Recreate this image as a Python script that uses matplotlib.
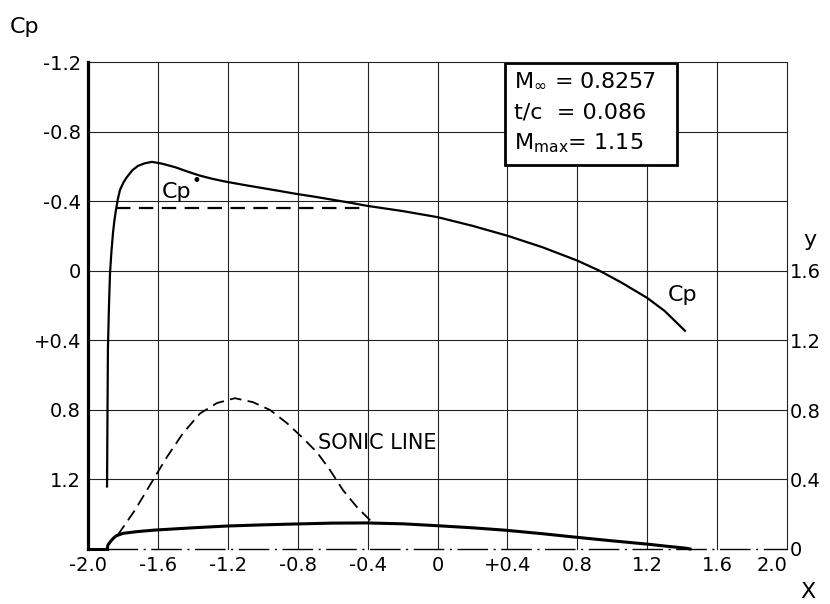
import numpy as np
import matplotlib
matplotlib.use('Agg')
import matplotlib.pyplot as plt
from matplotlib.patches import Rectangle

plt.rcParams['font.family'] = ['DejaVu Sans']

# ------------------------------------------------------------------
# Data (transonic airfoil, M = 0.8257)
# ------------------------------------------------------------------
# pressure coefficient along the surface (left axis, inverted)
cp_x = [-1.891, -1.889, -1.886, -1.880, -1.874, -1.866, -1.857, -1.849, -1.840,
        -1.829, -1.817, -1.798, -1.777, -1.746, -1.714, -1.675, -1.634, -1.577,
        -1.50, -1.43, -1.36, -1.29, -1.216, -1.10, -1.00, -0.90, -0.815, -0.70,
        -0.60, -0.50, -0.403, -0.20, 0.0, 0.2, 0.4, 0.6, 0.8, 0.93, 1.05, 1.2,
        1.30, 1.416]
cp_v = [1.24, 0.90, 0.45, 0.20, 0.012, -0.11, -0.219, -0.29, -0.351,
        -0.415, -0.466, -0.508, -0.541, -0.580, -0.605, -0.620, -0.628, -0.618,
        -0.597, -0.572, -0.549, -0.531, -0.515, -0.494, -0.477, -0.460, -0.445, -0.427,
        -0.410, -0.393, -0.375, -0.345, -0.31, -0.26, -0.203, -0.137, -0.06, 0.0, 0.065,
        0.155, 0.23, 0.344]

# critical pressure coefficient Cp*
cp_star = -0.363
cp_star_x = [-1.84, -0.415]

# sonic line (right axis, y)
sonic_x = [-1.830, -1.731, -1.628, -1.548, -1.456, -1.359, -1.262, -1.159,
           -1.056, -0.958, -0.861, -0.770, -0.690, -0.615, -0.541, -0.461, -0.375]
sonic_y = [0.08, 0.224, 0.397, 0.530, 0.667, 0.780, 0.840, 0.868,
           0.845, 0.800, 0.724, 0.638, 0.557, 0.454, 0.339, 0.241, 0.155]

# airfoil upper surface (right axis, y)
foil_x = [-1.891, -1.886, -1.874, -1.855, -1.838, -1.80, -1.72, -1.617, -1.40, -1.21,
          -1.00, -0.81, -0.60, -0.409, -0.20, 0.0, 0.20, 0.39, 0.60, 0.79, 1.00,
          1.20, 1.32, 1.42, 1.445]
foil_y = [0.0, 0.022, 0.040, 0.062, 0.076, 0.090, 0.100, 0.109, 0.122, 0.132,
          0.139, 0.144, 0.149, 0.150, 0.145, 0.134, 0.122, 0.108, 0.088, 0.068, 0.047,
          0.028, 0.015, 0.005, 0.0]

x_ticks = [-2.0, -1.6, -1.2, -0.8, -0.4, 0.0, 0.4, 0.8, 1.2, 1.6, 2.0]
x_labels = ['-2.0', '-1.6', '-1.2', '-0.8', '-0.4', '0', '+0.4', '0.8', '1.2', '1.6', '2.0']
cp_ticks = [-1.2, -0.8, -0.4, 0.0, 0.4, 0.8, 1.2]
cp_labels = ['-1.2', '-0.8', '-0.4', '0', '+0.4', '0.8', '1.2']
y_ticks = [0.0, 0.4, 0.8, 1.2, 1.6]
y_labels = ['0', '0.4', '0.8', '1.2', '1.6']

info_lines = [r'M$_\infty$ = 0.8257', 't/c  = 0.086', r'M$_{\rm max}$= 1.15']

XMIN, XMAX = -2.0, 2.0
CP_BOT, CP_TOP = 1.6, -1.2
Y_BOT, Y_TOP = 0.0, 2.8

# ------------------------------------------------------------------
# Figure
# ------------------------------------------------------------------
fig = plt.figure(figsize=(8.3, 6.04), dpi=100)
ax = fig.add_axes([88 / 830, 1 - 549 / 604, (787 - 88) / 830, (549 - 62.5) / 604])
ax2 = ax.twinx()

ax.set_xlim(XMIN, XMAX)
ax.set_ylim(CP_BOT, CP_TOP)
ax2.set_ylim(Y_BOT, Y_TOP)

# grid
grid_kw = dict(color='#222222', lw=0.8, zorder=1, clip_on=False)
for gx in x_ticks:
    ax.axvline(gx, **grid_kw)
for gy in cp_ticks:
    ax.axhline(gy, **grid_kw)

for s in ['top', 'right', 'bottom']:
    ax.spines[s].set_visible(False)
    ax2.spines[s].set_visible(False)
ax2.spines['left'].set_visible(False)
ax.spines['left'].set_linewidth(2.3)

# ticks
ax.set_xticks(x_ticks)
ax.set_xticklabels(x_labels, fontsize=14)
ax.get_xticklabels()[-1].set_horizontalalignment('right')
ax.set_yticks(cp_ticks)
ax.set_yticklabels(cp_labels, fontsize=14)
ax2.set_yticks(y_ticks)
ax2.set_yticklabels(y_labels, fontsize=14)
ax.tick_params(axis='both', length=0, pad=5)
ax2.tick_params(axis='y', length=0, pad=2)

# Cp curve and Cp*
ax.plot(cp_x, cp_v, color='black', lw=1.6, zorder=4)
ax.plot(cp_star_x, [cp_star, cp_star], color='black', lw=1.6,
        dashes=(6.5, 3.8), zorder=4)

# sonic line, airfoil, chord line
ax2.plot(sonic_x, sonic_y, color='black', lw=1.3, dashes=(6.5, 3.5), zorder=4)
ax2.plot(foil_x, foil_y, color='black', lw=2.2, zorder=5, clip_on=False)
ax2.plot([XMIN, foil_x[0]], [0, 0], color='black', lw=2.2, zorder=5, clip_on=False)
ax2.plot([foil_x[0], XMAX], [0, 0], color='black', lw=1.0,
         dashes=(22, 4, 1.5, 4), zorder=3, clip_on=False)

# text
ax.text(1.405, 0.14, 'Cp', fontsize=16, ha='center', va='center')
ax.text(-1.496, -0.455, 'Cp', fontsize=16, ha='center', va='center')
ax.text(-1.382, -0.518, '•', fontsize=12, ha='center', va='center')
ax2.text(-0.684, 0.61, 'SONIC LINE', fontsize=15, ha='left', va='center')

fig.text(25 / 830, 1 - 27 / 604, 'Cp', fontsize=16, ha='center', va='center')
fig.text(810 / 830, 1 - 240 / 604, 'y', fontsize=16, ha='center', va='center')
fig.text(808 / 830, 1 - 592 / 604, 'X', fontsize=16, ha='center', va='center')

# info box
box = Rectangle((0.386, -1.2), 1.37 - 0.386, 0.59, fill=True, facecolor='white',
                edgecolor='black', lw=2, zorder=6)
ax.add_patch(box)
for i, line in enumerate(info_lines):
    ax.text(0.44, -1.095 + i * 0.18, line, fontsize=16, ha='left', va='center', zorder=7)

plt.savefig('out.png', dpi=100)
plt.close()
